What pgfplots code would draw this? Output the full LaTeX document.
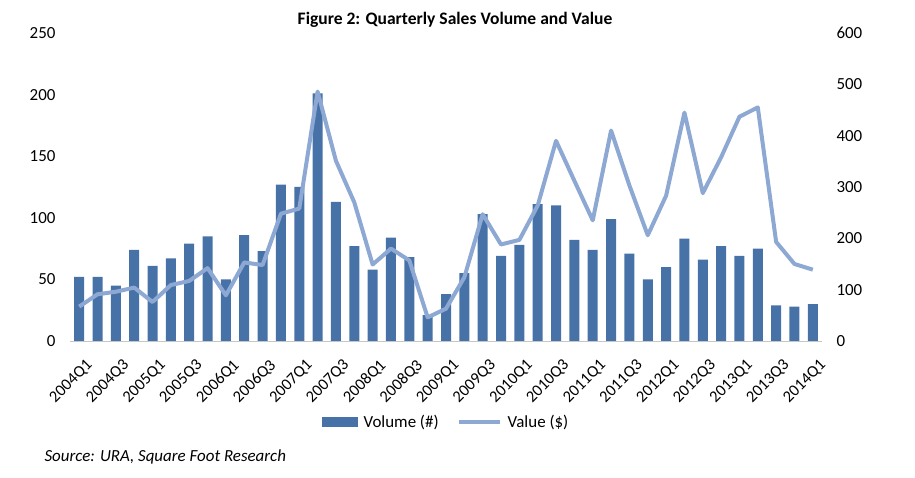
\documentclass[border=0pt]{standalone}
\usepackage{pgfplots}
\pgfplotsset{compat=1.18}
\usepackage{pgfplotstable}
\usepackage{fontspec}
\setmainfont{Carlito}

\definecolor{volblue}{RGB}{70,114,168}
\definecolor{valblue}{RGB}{142,168,212}

% quarter index, sales volume (#), sales value ($)
\pgfplotstableread{
q  vol  val
0  52   67
1  52   91
2  45   96
3  74   104
4  61   76
5  67   109
6  79   117
7  85   142
8  50   89
9  86   153
10 73   148
11 127  248
12 125  258
13 201  486
14 113  351
15 77   270
16 58   149
17 84   180
18 68   157
19 21   46
20 38   63
21 55   124
22 103  247
23 69   188
24 78   197
25 111  264
26 110  390
27 82   312
28 74   235
29 99   410
30 71   303
31 50   206
32 60   283
33 83   445
34 66   288
35 77   358
36 69   437
37 75   455
38 29   193
39 28   150
40 30   139
}\salesdata

\begin{document}
\begin{tikzpicture}[font=\fontsize{17}{20}\selectfont]
\path[use as bounding box] (-70bp,-137bp) rectangle (845bp,341bp);

% volume bars on the left axis
\begin{axis}[
  at={(0,0)}, anchor=south west,
  width=752bp, height=308bp, scale only axis,
  xmin=-0.5, xmax=40.5, ymin=0, ymax=250,
  axis line style={draw=none},
  major tick length=0pt,
  ytick={0,50,...,250},
  yticklabel style={xshift=-11bp},
  xtick={0,2,...,40},
  xticklabels={2004Q1,2004Q3,2005Q1,2005Q3,2006Q1,2006Q3,2007Q1,2007Q3,2008Q1,2008Q3,2009Q1,2009Q3,2010Q1,2010Q3,2011Q1,2011Q3,2012Q1,2012Q3,2013Q1,2013Q3,2014Q1},
  xticklabel style={xshift=6bp, yshift=-17bp, rotate=45, anchor=north east, inner sep=0bp, font=\fontsize{16.5}{20}\selectfont},
  /pgf/number format/assume math mode=true,
  yticklabel style={font=\fontsize{17}{20}\selectfont},
  legend style={draw=none, at={(0.5,-0.263)}, anchor=center,
    legend columns=2, font=\fontsize{17}{20}\selectfont,
    /tikz/every odd column/.append style={column sep=4bp},
    /tikz/every even column/.append style={column sep=16bp}},
]
\addplot[ybar, bar width=10bp, bar shift=0pt, fill=volblue, draw=none,
  legend image code/.code={\fill[volblue] (0bp,-5bp) rectangle (36bp,5bp);}]
  table[x=q, y=vol] {\salesdata};
\addlegendentry{Volume (\#)}
\addlegendimage{legend image code/.code={\draw[valblue, line width=4bp] (0bp,0bp) -- (41bp,0bp);}}
\addlegendentry{Value (\$)}
\end{axis}

% value line on the right axis
\begin{axis}[
  at={(0,0)}, anchor=south west,
  width=752bp, height=308bp, scale only axis,
  xmin=-0.5, xmax=40.5, ymin=0, ymax=600,
  axis line style={draw=none},
  major tick length=0pt,
  axis y line*=right,
  ytick={0,100,...,600},
  yticklabel style={xshift=11bp},
  xtick=\empty,
  /pgf/number format/assume math mode=true,
  tick label style={font=\fontsize{17}{20}\selectfont},
]
\addplot[valblue, line width=4bp, line join=round] table[x=q, y=val] {\salesdata};
\end{axis}

% baseline of the category axis
\draw[gray!45, line width=0.8bp] (0,0) -- (752bp,0);

\node[font=\fontsize{17.6}{20}\selectfont\bfseries] at (385bp,321bp) {Figure 2: Quarterly Sales Volume and Value};
\node[anchor=west, font=\fontsize{17}{20}\selectfont\itshape] at (-29bp,-116bp) {Source: URA, Square Foot Research};
\end{tikzpicture}
\end{document}
